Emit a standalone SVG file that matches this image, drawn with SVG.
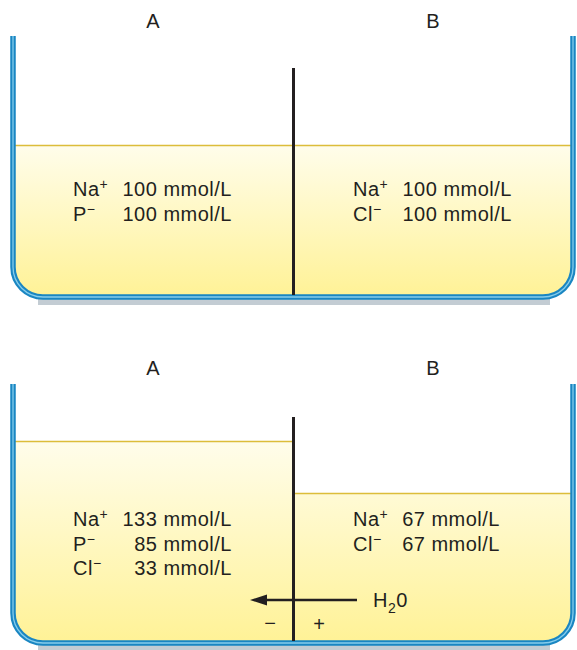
<svg xmlns="http://www.w3.org/2000/svg" width="577" height="650" viewBox="0 0 577 650">
<defs>
<linearGradient id="liq1" x1="0" y1="145" x2="0" y2="297" gradientUnits="userSpaceOnUse">
<stop offset="0" stop-color="#fffdeb"/><stop offset="1" stop-color="#fff296"/>
</linearGradient>
<linearGradient id="liq2" x1="0" y1="441" x2="0" y2="643" gradientUnits="userSpaceOnUse">
<stop offset="0" stop-color="#fffdeb"/><stop offset="1" stop-color="#fff296"/>
</linearGradient>
<style>
.wall{fill:none;stroke:#1a86c2;stroke-width:5.5}
.wallin{fill:none;stroke:#86cdec;stroke-width:1.3}
.shadow{fill:none;stroke:#c3ccd3;stroke-width:6}
.surf{stroke:#dcbd3a;stroke-width:1.5}
.div{stroke:#231f20;stroke-width:3}
.t{font-family:"Liberation Sans",Arial,sans-serif;font-size:20px;letter-spacing:0.5px;fill:#231f20}
.lab{font-family:"Liberation Sans",Arial,sans-serif;font-size:20px;fill:#231f20}
.sup{font-size:14px;letter-spacing:0}
</style>
</defs>

<g id="beaker-top">
<path d="M15,145 H571 V267 A28,28 0 0 1 543,295 H43 A28,28 0 0 1 15,267 Z" fill="url(#liq1)"/>
<line class="surf" x1="15" y1="145.5" x2="571" y2="145.5"/>
<path class="shadow" d="M38,302 H550"/>
<path class="wall" d="M13,36 V267 A30,30 0 0 0 43,297 H543 A30,30 0 0 0 573,267 V36"/>
<path class="wallin" d="M13,36 V267 A30,30 0 0 0 43,297 H543 A30,30 0 0 0 573,267 V36"/>
<line class="div" x1="293.5" y1="68" x2="293.5" y2="295"/>
</g>
<g id="label-A-top"><text class="lab" x="153" y="28" text-anchor="middle">A</text></g>
<g id="label-B-top"><text class="lab" x="433" y="28" text-anchor="middle">B</text></g>
<g id="top-left-contents">
<text class="t" x="73" y="196">Na<tspan class="sup" dy="-7">+</tspan></text>
<text class="t" x="232" y="196" text-anchor="end">100 mmol/L</text>
<text class="t" x="73" y="221">P<tspan class="sup" dy="-7">−</tspan></text>
<text class="t" x="232" y="221" text-anchor="end">100 mmol/L</text>
</g>
<g id="top-right-contents">
<text class="t" x="353" y="196">Na<tspan class="sup" dy="-7">+</tspan></text>
<text class="t" x="512" y="196" text-anchor="end">100 mmol/L</text>
<text class="t" x="353" y="221">Cl<tspan class="sup" dy="-7">−</tspan></text>
<text class="t" x="512" y="221" text-anchor="end">100 mmol/L</text>
</g>

<g id="beaker-bottom">
<path d="M15,441 H293 V493 H571 V613 A28,28 0 0 1 543,641 H43 A28,28 0 0 1 15,613 Z" fill="url(#liq2)"/>
<line class="surf" x1="15" y1="441.5" x2="293" y2="441.5"/>
<line class="surf" x1="293" y1="493.5" x2="571" y2="493.5"/>
<path class="shadow" d="M38,648 H550"/>
<path class="wall" d="M13,384 V613 A30,30 0 0 0 43,643 H543 A30,30 0 0 0 573,613 V384"/>
<path class="wallin" d="M13,384 V613 A30,30 0 0 0 43,643 H543 A30,30 0 0 0 573,613 V384"/>
<line class="div" x1="293.5" y1="417" x2="293.5" y2="641"/>
</g>
<g id="label-A-bottom"><text class="lab" x="153" y="375" text-anchor="middle">A</text></g>
<g id="label-B-bottom"><text class="lab" x="433" y="375" text-anchor="middle">B</text></g>
<g id="bottom-left-contents">
<text class="t" x="73" y="526">Na<tspan class="sup" dy="-7">+</tspan></text>
<text class="t" x="232" y="526" text-anchor="end">133 mmol/L</text>
<text class="t" x="73" y="551">P<tspan class="sup" dy="-7">−</tspan></text>
<text class="t" x="232" y="551" text-anchor="end">85 mmol/L</text>
<text class="t" x="73" y="575">Cl<tspan class="sup" dy="-7">−</tspan></text>
<text class="t" x="232" y="575" text-anchor="end">33 mmol/L</text>
</g>
<g id="bottom-right-contents">
<text class="t" x="353" y="526">Na<tspan class="sup" dy="-7">+</tspan></text>
<text class="t" x="500" y="526" text-anchor="end">67 mmol/L</text>
<text class="t" x="353" y="551">Cl<tspan class="sup" dy="-7">−</tspan></text>
<text class="t" x="500" y="551" text-anchor="end">67 mmol/L</text>
</g>
<g id="connectors">
<line x1="357" y1="600" x2="262" y2="600" stroke="#231f20" stroke-width="2.5"/>
<polygon points="250,600 267,594.5 267,605.5" fill="#231f20"/>
</g>
<g id="water-label">
<text class="t" x="373" y="607">H<tspan font-size="14px" dy="6">2</tspan><tspan dy="-6">0</tspan></text>
</g>
<g id="charge-labels">
<text class="lab" x="270" y="630" text-anchor="middle">−</text>
<text class="lab" x="319" y="631" text-anchor="middle">+</text>
</g>
</svg>
